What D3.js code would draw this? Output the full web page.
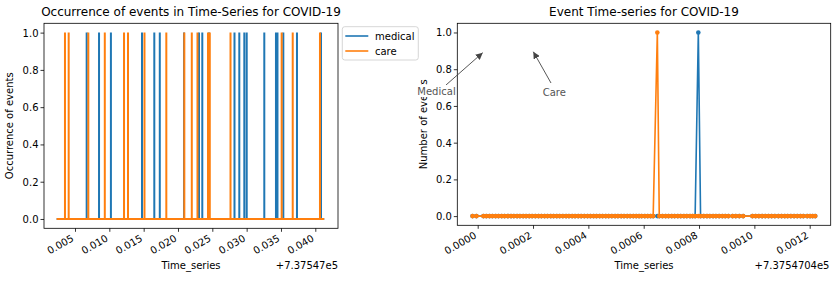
<!DOCTYPE html>
<html>
<head>
<meta charset="utf-8">
<script src="https://cdn.jsdelivr.net/npm/d3@7"></script>
<style>
  body { margin: 0; background: #fff; }
  svg { font-family: "DejaVu Sans", sans-serif; }
</style>
</head>
<body>
<svg id="chart" width="838" height="281"></svg>
<script>
// left chart: event times (days past +7.37547e5)
const leftSpan = [0.00233, 0.0413];
const leftMedical = [0.0067, 0.0085, 0.01023, 0.01476, 0.01655, 0.01735, 0.02088, 0.02306, 0.02354,
  0.02452, 0.02823, 0.02893, 0.02966, 0.03001, 0.03257, 0.03427, 0.03449, 0.03534, 0.03733, 0.04083];
const leftCare = [0.00354, 0.00408, 0.00694, 0.00934, 0.01214, 0.01272, 0.01512, 0.0183, 0.02092,
  0.02201, 0.02284, 0.02437, 0.02463, 0.02765, 0.0351, 0.03671, 0.04068];
const leftTicks = [0.005, 0.010, 0.015, 0.020, 0.025, 0.030, 0.035, 0.040];
const leftTickLabels = ['0.005', '0.010', '0.015', '0.020', '0.025', '0.030', '0.035', '0.040'];

// right chart: sample times in seconds past +7.3754704e5 days
const rightSecs = [-1.6, -0.4, 1.8, 2.7, 3.7, 4.6, 5.6, 6.5, 7.5, 8.4, 9.4, 10.4, 11.3, 12.3, 13.2, 14.2,
  15.1, 16.1, 17.0, 18.0, 19.0, 19.9, 20.9, 21.8, 22.8, 23.7, 24.7, 25.6, 26.6, 27.6, 28.5, 29.5, 30.4,
  31.4, 32.3, 33.3, 34.3, 35.2, 36.2, 37.1, 38.1, 39.0, 40.0, 40.9, 41.9, 42.9, 43.8, 44.8, 45.7, 46.7,
  47.6, 48.6, 49.5, 50.4, 51.2, 52.2, 53.1, 54.0, 54.8, 56.1, 56.7, 57.7, 58.7, 59.6, 60.6, 61.5, 62.5,
  63.4, 64.4, 65.3, 66.3, 67.1, 67.9, 68.9, 69.6, 70.6, 71.6, 72.5, 73.5, 74.4, 75.4, 76.4, 77.3, 78.3,
  79.6, 80.6, 81.7, 82.9, 85.8, 86.8, 87.8, 88.8, 89.8, 90.8, 91.8, 92.8, 93.9, 94.9, 95.9, 96.8, 97.8,
  98.8, 99.8, 100.8, 101.7, 102.9, 103.8, 104.6, 105.4];
const rightMedicalPeaks = [68.9];
const rightCarePeaks = [56.1];
const rightTicks = [0, 0.0002, 0.0004, 0.0006, 0.0008, 0.0010, 0.0012];
const rightTickLabels = ['0.0000', '0.0002', '0.0004', '0.0006', '0.0008', '0.0010', '0.0012'];

const yTicks = [0, 0.2, 0.4, 0.6, 0.8, 1.0];
const blue = '#1f77b4', orange = '#ff7f0e';

const svg = d3.select('#chart');

function drawAxes(g, x, y, w, h, ticks, labels) {
  const xAxis = d3.axisBottom(x).tickValues(ticks).tickSize(3.5).tickSizeOuter(0)
    .tickFormat((d, i) => labels[i]);
  const yAxis = d3.axisLeft(y).tickValues(yTicks).tickSize(3.5).tickPadding(2)
    .tickFormat(d3.format('.1f'));

  const gx = g.append('g').attr('transform', 'translate(0,' + h + ')').call(xAxis);
  gx.select('.domain').remove();
  gx.selectAll('text')
    .attr('x', 0).attr('y', 0).attr('dy', 0)
    .style('text-anchor', 'end')
    .attr('transform', 'translate(-1,12) rotate(-30)');

  const gy = g.append('g').call(yAxis);
  gy.select('.domain').remove();
  gy.selectAll('text').attr('dy', '0.34em');

  g.selectAll('.tick line').attr('stroke', '#000').attr('stroke-width', 0.8);
  g.selectAll('.tick text').attr('fill', '#000').style('font-size', '10px')
    .style('font-family', '"DejaVu Sans", sans-serif');

  g.append('rect').attr('width', w).attr('height', h)
    .attr('fill', 'none').attr('stroke', '#000').attr('stroke-width', 0.8);
}

// ---------- left chart ----------
{
  const margin = { left: 44, top: 23.3 }, w = 294, h = 205;
  const g = svg.append('g').attr('transform', 'translate(' + margin.left + ',' + margin.top + ')');
  const x = d3.scaleLinear().domain([0.000485, 0.043305]).range([0, w]);
  const y = d3.scaleLinear().domain([-0.05, 1.05]).range([h, 0]);

  const spikes = (events) => {
    const pts = [[leftSpan[0], 0]];
    events.forEach((t) => { pts.push([t, 0], [t, 1], [t, 0]); });
    pts.push([leftSpan[1], 0]);
    return pts;
  };
  const line = d3.line().x((d) => x(d[0])).y((d) => y(d[1]));

  [[leftMedical, blue], [leftCare, orange]].forEach(([ev, c]) => {
    g.append('path').datum(spikes(ev)).attr('d', line)
      .attr('fill', 'none').attr('stroke', c).attr('stroke-width', 2);
  });

  drawAxes(g, x, y, w, h, leftTicks, leftTickLabels);

  svg.append('text').attr('x', 191).attr('y', 16).attr('text-anchor', 'middle')
    .style('font-size', '12px').text('Occurrence of events in Time-Series for COVID-19');
  svg.append('text').attr('transform', 'translate(13,125.8) rotate(-90)').attr('text-anchor', 'middle')
    .style('font-size', '10px').text('Occurrence of events');
  svg.append('text').attr('x', 191).attr('y', 269).attr('text-anchor', 'middle')
    .style('font-size', '10px').text('Time_series');
  svg.append('text').attr('x', 338).attr('y', 269).attr('text-anchor', 'end')
    .style('font-size', '10px').text('+7.37547e5');

  // legend
  const lg = svg.append('g').attr('transform', 'translate(342.3,26.7)');
  lg.append('rect').attr('width', 76).attr('height', 33.3).attr('rx', 2.5)
    .attr('fill', '#fff').attr('fill-opacity', 0.8).attr('stroke', '#ccc').attr('stroke-width', 0.8);
  [['medical', blue], ['care', orange]].forEach(([name, c], i) => {
    lg.append('line').attr('x1', 3).attr('x2', 26).attr('y1', 9.3 + i * 15).attr('y2', 9.3 + i * 15)
      .attr('stroke', c).attr('stroke-width', 1.6);
    lg.append('text').attr('x', 32.7).attr('y', 13 + i * 15).style('font-size', '10px').text(name);
  });
}

// ---------- right chart ----------
{
  const margin = { left: 457.3, top: 23.3 }, w = 373.4, h = 202;
  const g = svg.append('g').attr('transform', 'translate(' + margin.left + ',' + margin.top + ')');
  const x = d3.scaleLinear().domain([-0.0000737, 0.0012759]).range([0, w]);
  const y = d3.scaleLinear().domain([-0.05, 1.05]).range([h, 0]);

  const series = (peaks) => rightSecs.map((s) => [s / 86400, peaks.includes(s) ? 1 : 0]);
  const line = d3.line().x((d) => x(d[0])).y((d) => y(d[1]));

  [[rightMedicalPeaks, blue], [rightCarePeaks, orange]].forEach(([pk, c]) => {
    const data = series(pk);
    g.append('path').datum(data).attr('d', line)
      .attr('fill', 'none').attr('stroke', c).attr('stroke-width', 1.6);
    g.append('g').selectAll('circle').data(data).enter().append('circle')
      .attr('cx', (d) => x(d[0])).attr('cy', (d) => y(d[1])).attr('r', 2.3).attr('fill', c);
  });

  drawAxes(g, x, y, w, h, rightTicks, rightTickLabels);

  svg.append('text').attr('x', 644).attr('y', 16).attr('text-anchor', 'middle')
    .style('font-size', '12px').text('Event Time-series for COVID-19');
  svg.append('text').attr('transform', 'translate(427,124.3) rotate(-90)').attr('text-anchor', 'middle')
    .style('font-size', '10px').text('Number of events');
  svg.append('text').attr('x', 644).attr('y', 269).attr('text-anchor', 'middle')
    .style('font-size', '10px').text('Time_series');
  svg.append('text').attr('x', 829.5).attr('y', 269).attr('text-anchor', 'end')
    .style('font-size', '10px').text('+7.3754704e5');

  // annotations
  const defs = svg.append('defs');
  defs.append('marker').attr('id', 'head').attr('viewBox', '0 0 10 10').attr('refX', 10).attr('refY', 5)
    .attr('markerWidth', 7).attr('markerHeight', 7).attr('markerUnits', 'userSpaceOnUse')
    .attr('orient', 'auto').append('path').attr('d', 'M0,0 L10,5 L0,10 z').attr('fill', '#444');

  svg.append('line').attr('x1', 446).attr('y1', 85).attr('x2', 482.7).attr('y2', 52.7)
    .attr('stroke', '#444').attr('stroke-width', 0.9).attr('marker-end', 'url(#head)');
  svg.append('line').attr('x1', 551).attr('y1', 83).attr('x2', 533.3).attr('y2', 51.7)
    .attr('stroke', '#444').attr('stroke-width', 0.9).attr('marker-end', 'url(#head)');

  svg.append('rect').attr('x', 417).attr('y', 85).attr('width', 39).attr('height', 12).attr('fill', '#fff');
  svg.append('text').attr('x', 436.5).attr('y', 95).attr('text-anchor', 'middle')
    .style('font-size', '10px').attr('fill', '#555').text('Medical');
  svg.append('text').attr('x', 554.3).attr('y', 95.5).attr('text-anchor', 'middle')
    .style('font-size', '10px').attr('fill', '#555').text('Care');
}
</script>
</body>
</html>
